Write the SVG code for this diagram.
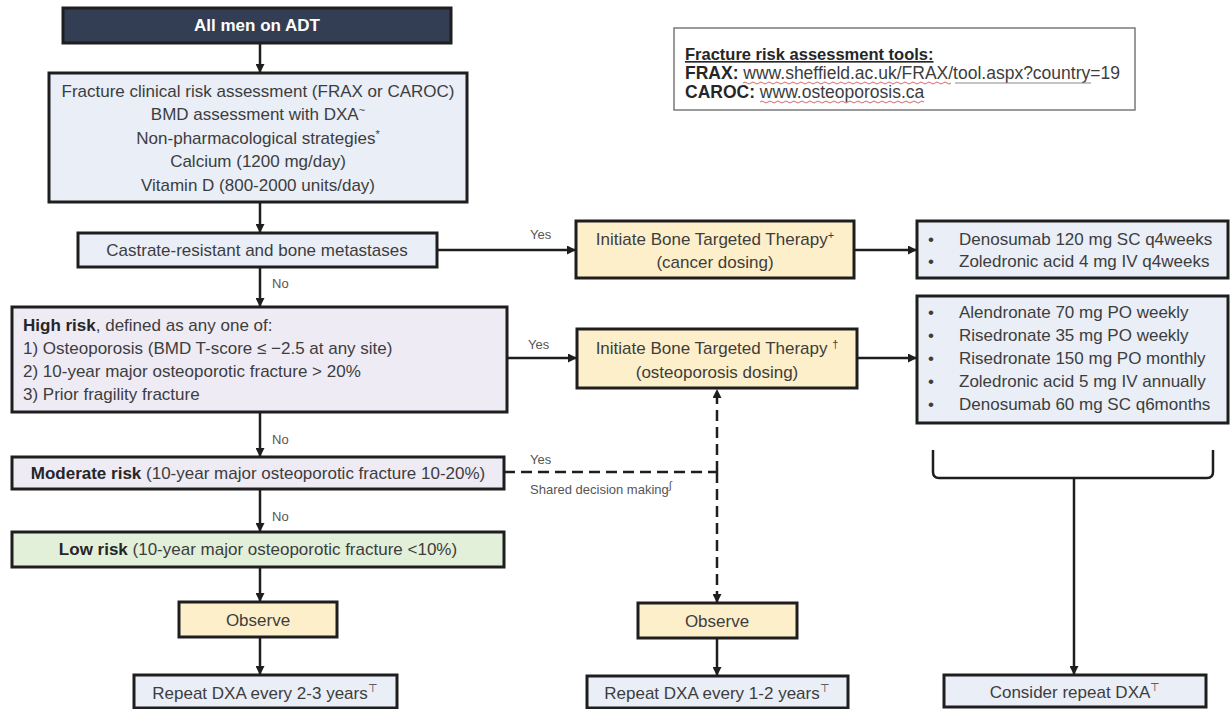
<svg xmlns="http://www.w3.org/2000/svg" width="1231" height="709" viewBox="0 0 1231 709">
<style>
.box{stroke:#1e1e1e;stroke-width:3}
.blue{fill:#e9eef7}
.lav{fill:#eeebf5}
.grn{fill:#e2efd9}
.yel{fill:#fdefca}
.t{font-family:"Liberation Sans",Arial,sans-serif;font-size:17px;fill:#3d3d3d}
.c{text-anchor:middle}
.b{font-weight:bold;fill:#262626}
.lbl{font-family:"Liberation Sans",Arial,sans-serif;font-size:13px;fill:#555}
.sup{font-size:11px}
.ln{stroke:#1e1e1e;stroke-width:2.5;fill:none}
.dash{stroke-dasharray:11,6}
.wave{fill:none;stroke:#d06a6a;stroke-width:1}
</style>
<defs>
<marker id="ah" viewBox="0 0 10 10" refX="10" refY="5" markerWidth="9" markerHeight="9" markerUnits="userSpaceOnUse" orient="auto">
<path d="M0,0 L10,5 L0,10 z" fill="#1e1e1e"/>
</marker>
</defs>
<rect width="1231" height="709" fill="#ffffff"/>

<g id="connectors">
<line class="ln" x1="260" y1="43" x2="260" y2="73" marker-end="url(#ah)"/>
<line class="ln" x1="260" y1="202" x2="260" y2="233" marker-end="url(#ah)"/>
<line class="ln" x1="437" y1="250" x2="576" y2="250" marker-end="url(#ah)"/>
<line class="ln" x1="854" y1="250" x2="917" y2="250" marker-end="url(#ah)"/>
<line class="ln" x1="260" y1="267" x2="260" y2="307" marker-end="url(#ah)"/>
<line class="ln" x1="507" y1="358" x2="577" y2="358" marker-end="url(#ah)"/>
<line class="ln" x1="857" y1="358" x2="917" y2="358" marker-end="url(#ah)"/>
<line class="ln" x1="260" y1="412" x2="260" y2="457" marker-end="url(#ah)"/>
<line class="ln" x1="260" y1="489" x2="260" y2="532" marker-end="url(#ah)"/>
<line class="ln" x1="260" y1="567" x2="260" y2="602" marker-end="url(#ah)"/>
<line class="ln" x1="260" y1="637" x2="260" y2="675" marker-end="url(#ah)"/>
<path class="ln dash" d="M504,472 H717"/>
<line class="ln dash" x1="717" y1="472" x2="717" y2="389" marker-end="url(#ah)"/>
<line class="ln dash" x1="717" y1="472" x2="717" y2="603" marker-end="url(#ah)"/>
<line class="ln" x1="717" y1="638" x2="717" y2="676" marker-end="url(#ah)"/>
<path class="ln" d="M933,450 V472 Q933,478 939,478 H1207 Q1213,478 1213,472 V450"/>
<line class="ln" x1="1074" y1="478" x2="1074" y2="675" marker-end="url(#ah)"/>
<text class="lbl" x="530" y="239">Yes</text>
<text class="lbl" x="272" y="288">No</text>
<text class="lbl" x="528" y="349">Yes</text>
<text class="lbl" x="272" y="444">No</text>
<text class="lbl" x="530" y="464">Yes</text>
<text class="lbl" x="530" y="494">Shared decision making<tspan class="sup" dy="-5">∫</tspan></text>
<text class="lbl" x="272" y="521">No</text>
</g>

<g id="n-allmen">
<rect class="box" x="63" y="8" width="388" height="35" fill="#333e54"/>
<text class="t c b" x="257" y="31" style="fill:#ffffff">All men on ADT</text>
</g>

<g id="n-assessment">
<rect class="box blue" x="49" y="73" width="418" height="129"/>
<text class="t c" x="258" y="97">Fracture clinical risk assessment (FRAX or CAROC)</text>
<text class="t c" x="258" y="120">BMD assessment with DXA<tspan class="sup" dy="-6">~</tspan></text>
<text class="t c" x="258" y="144">Non-pharmacological strategies<tspan class="sup" dy="-6">*</tspan></text>
<text class="t c" x="258" y="167">Calcium (1200 mg/day)</text>
<text class="t c" x="258" y="191">Vitamin D (800-2000 units/day)</text>
</g>

<g id="n-castrate">
<rect class="box blue" x="78" y="233" width="359" height="34"/>
<text class="t c" x="257" y="256">Castrate-resistant and bone metastases</text>
</g>

<g id="n-bta-cancer">
<rect class="box yel" x="576" y="221" width="278" height="57"/>
<text class="t c" x="715" y="245">Initiate Bone Targeted Therapy<tspan class="sup" dy="-6">+</tspan></text>
<text class="t c" x="715" y="268">(cancer dosing)</text>
</g>

<g id="n-meds-cancer">
<rect class="box blue" x="917" y="221" width="311" height="57"/>
<text class="t" x="928" y="245">•</text>
<text class="t" x="959" y="245">Denosumab 120 mg SC q4weeks</text>
<text class="t" x="928" y="267">•</text>
<text class="t" x="959" y="267">Zoledronic acid 4 mg IV q4weeks</text>
</g>

<g id="n-highrisk">
<rect class="box lav" x="12" y="307" width="495" height="105"/>
<text class="t" x="23" y="331"><tspan class="b">High risk</tspan>, defined as any one of:</text>
<text class="t" x="23" y="354">1) Osteoporosis (BMD T-score ≤ −2.5 at any site)</text>
<text class="t" x="23" y="377">2) 10-year major osteoporotic fracture &gt; 20%</text>
<text class="t" x="23" y="400">3) Prior fragility fracture</text>
</g>

<g id="n-bta-osteo">
<rect class="box yel" x="577" y="329" width="280" height="59"/>
<text class="t c" x="717" y="354">Initiate Bone Targeted Therapy <tspan class="sup" dy="-6">†</tspan></text>
<text class="t c" x="717" y="378">(osteoporosis dosing)</text>
</g>

<g id="n-meds-osteo">
<rect class="box blue" x="917" y="296" width="311" height="127"/>
<text class="t" x="928" y="318">•</text>
<text class="t" x="959" y="318">Alendronate 70 mg PO weekly</text>
<text class="t" x="928" y="341">•</text>
<text class="t" x="959" y="341">Risedronate 35 mg PO weekly</text>
<text class="t" x="928" y="364">•</text>
<text class="t" x="959" y="364">Risedronate 150 mg PO monthly</text>
<text class="t" x="928" y="387">•</text>
<text class="t" x="959" y="387">Zoledronic acid 5 mg IV annually</text>
<text class="t" x="928" y="410">•</text>
<text class="t" x="959" y="410">Denosumab 60 mg SC q6months</text>
</g>

<g id="n-moderate">
<rect class="box lav" x="12" y="457" width="492" height="32"/>
<text class="t c" x="258" y="479"><tspan class="b">Moderate risk</tspan> (10-year major osteoporotic fracture 10-20%)</text>
</g>

<g id="n-low">
<rect class="box grn" x="12" y="532" width="492" height="35"/>
<text class="t c" x="258" y="555"><tspan class="b">Low risk</tspan> (10-year major osteoporotic fracture &lt;10%)</text>
</g>

<g id="n-observe-left">
<rect class="box yel" x="179" y="602" width="158" height="35"/>
<text class="t c" x="258" y="626">Observe</text>
</g>

<g id="n-repeat-left">
<rect class="box blue" x="134" y="675" width="263" height="33"/>
<text class="t c" x="265" y="699">Repeat DXA every 2-3 years<tspan class="sup" dy="-7">⊤</tspan></text>
</g>

<g id="n-observe-mid">
<rect class="box yel" x="638" y="603" width="159" height="35"/>
<text class="t c" x="717" y="627">Observe</text>
</g>

<g id="n-repeat-mid">
<rect class="box blue" x="587" y="676" width="261" height="32"/>
<text class="t c" x="717" y="699">Repeat DXA every 1-2 years<tspan class="sup" dy="-7">⊤</tspan></text>
</g>

<g id="n-consider">
<rect class="box blue" x="944" y="675" width="262" height="32"/>
<text class="t c" x="1075" y="698">Consider repeat DXA<tspan class="sup" dy="-7">⊤</tspan></text>
</g>

<g id="n-tools">
<rect x="674" y="28" width="461" height="82" fill="#ffffff" stroke="#7a7a7a" stroke-width="1.5"/>
<text class="t b" x="685" y="60" style="font-size:16.5px;text-decoration:underline">Fracture risk assessment tools:</text>
<text class="t" x="685" y="79" style="font-size:17.5px"><tspan class="b">FRAX:</tspan> www.sheffield.ac.uk/FRAX/tool.aspx?country=19</text>
<text class="t" x="685" y="98" style="font-size:17.5px"><tspan class="b">CAROC:</tspan> www.osteoporosis.ca</text>
<path class="wave" d="M743,83 q2,-2 4,0 t4,0 t4,0 t4,0 t4,0 t4,0 t4,0 t4,0 t4,0 t4,0 t4,0 t4,0 t4,0 t4,0 t4,0 t4,0 t4,0 t4,0 t4,0 t4,0 t4,0 t4,0 t4,0 t4,0 t4,0 t4,0 t4,0 t4,0 t4,0 t4,0 t4,0 t4,0 t4,0 t4,0 t4,0 t4,0 t4,0 t4,0 t4,0 t4,0 t4,0 t4,0 t4,0 t4,0 t4,0 t4,0 t4,0 t4,0 t4,0 t4,0 t4,0 t4,0"/>
<line x1="955" y1="83" x2="1091" y2="83" stroke="#8a8a8a" stroke-width="1"/>
<path class="wave" d="M760,102 q2,-2 4,0 t4,0 t4,0 t4,0 t4,0 t4,0 t4,0 t4,0 t4,0 t4,0 t4,0 t4,0 t4,0 t4,0 t4,0 t4,0 t4,0 t4,0 t4,0 t4,0 t4,0 t4,0 t4,0 t4,0 t4,0 t4,0 t4,0 t4,0 t4,0 t4,0 t4,0 t4,0 t4,0 t4,0 t4,0 t4,0 t4,0 t4,0 t4,0 t4,0 t4,0"/>
</g>
</svg>
